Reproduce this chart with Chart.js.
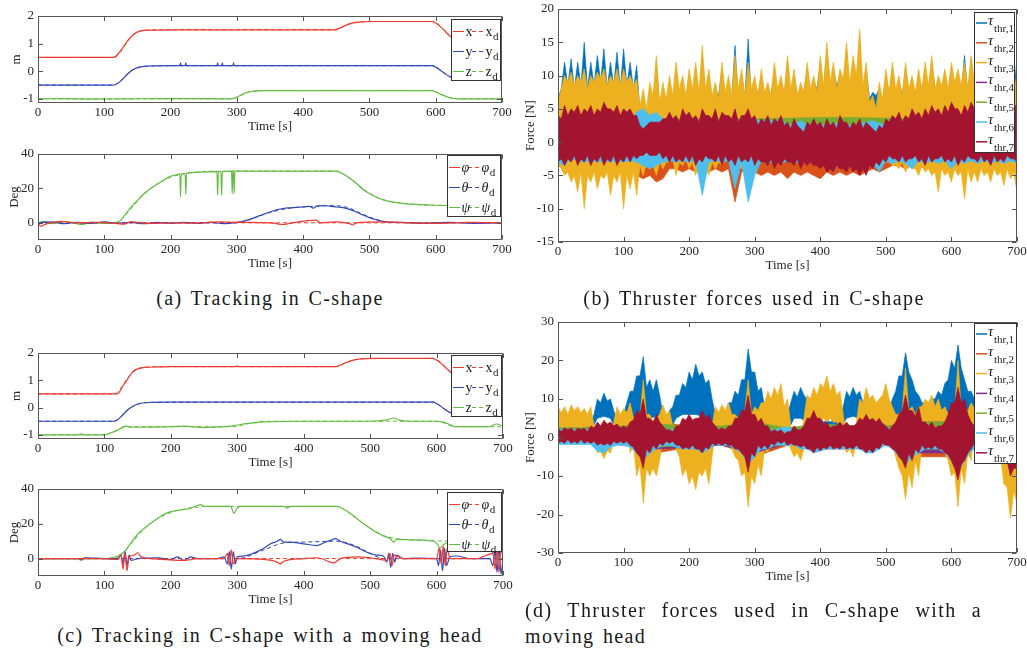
<!DOCTYPE html>
<html>
<head>
<meta charset="utf-8">
<title>C-shape tracking and thruster forces</title>
<script src="https://cdn.jsdelivr.net/npm/chart.js@4.4.1/dist/chart.umd.min.js"></script>
<style>
  body { margin: 0; background: #fff; }
  #page { position: relative; width: 1027px; height: 653px; overflow: hidden; background: #fff; }
  canvas { position: absolute; }
  .cap { position: absolute; font-family: "Liberation Serif", "Times New Roman", Times, serif; font-size: 20px; line-height: 24px; color: #1a1a1a; letter-spacing: 1.4px; word-spacing: 2px; white-space: nowrap; }
</style>
</head>
<body>
<div id="page">
  <canvas id="pa1"></canvas>
  <canvas id="pa2"></canvas>
  <canvas id="pb"></canvas>
  <canvas id="pc1"></canvas>
  <canvas id="pc2"></canvas>
  <canvas id="pd"></canvas>
  <div class="cap" style="left:20px;top:286px;width:500px;text-align:center">(a) Tracking in C-shape</div>
  <div class="cap" style="left:504px;top:286px;width:500px;text-align:center">(b) Thruster forces used in C-shape</div>
  <div class="cap" style="left:20px;top:623px;width:500px;text-align:center">(c) Tracking in C-shape with a moving head</div>
  <div class="cap" style="left:525px;top:598px;width:457px;text-align:justify;text-align-last:justify">(d) Thruster forces used in C-shape with a</div>
  <div class="cap" style="left:525px;top:624px">moving head</div>
</div>
<script>
const FONT = '"Liberation Serif", "Times New Roman", Times, serif';

// ---------- ticks ----------
const timeTicks = [0, 100, 200, 300, 400, 500, 600, 700];
const posTicks = [-1, 0, 1, 2];
const degTicks = [0, 20, 40];
const forceTicksB = [-15, -10, -5, 0, 5, 10, 15, 20];
const forceTicksD = [-30, -20, -10, 0, 10, 20, 30];

// sampling grids of the thruster envelopes
const tGrid10 = Array.from({ length: 71 }, (_, i) => i * 10);      // peaks read at 0,10,...,700 s
const tMid10 = Array.from({ length: 70 }, (_, i) => i * 10 + 5);   // band core read at 5,15,...,695 s
const tGrid50 = [0, 50, 100, 150, 200, 250, 300, 350, 400, 450, 500, 550, 600, 650, 700];

// ---------- (a) tracking in C-shape : [time, value] ----------
const a_x = [[0,0.5],[110,0.5],[116,0.52],[125,0.75],[135,1.1],[145,1.35],[155,1.46],[170,1.49],[200,1.5],[447,1.5],[455,1.56],[465,1.67],[475,1.75],[490,1.79],[510,1.8],[594,1.8],[600,1.75],[610,1.55],[620,1.3],[628,1.15],[640,1.05],[660,1.0],[700,1.0]];
const a_xd = [[0,0.5],[115,0.5],[125,0.72],[135,1.08],[145,1.34],[155,1.46],[170,1.49],[200,1.5],[448,1.5],[456,1.57],[466,1.68],[476,1.75],[490,1.79],[510,1.8],[595,1.8],[601,1.75],[611,1.54],[621,1.3],[629,1.15],[640,1.05],[660,1.0],[700,1.0]];
const a_y = [[0,-0.5],[112,-0.5],[117,-0.48],[125,-0.35],[135,-0.1],[145,0.08],[155,0.16],[170,0.19],[200,0.2],[214,0.2],[215,0.3],[216,0.2],[222,0.2],[223,0.3],[224,0.2],[270,0.2],[271,0.3],[272,0.2],[277,0.2],[278,0.3],[279,0.2],[294,0.2],[295,0.3],[296,0.2],[594,0.2],[600,0.15],[610,-0.02],[620,-0.18],[630,-0.26],[650,-0.3],[700,-0.3]];
const a_yd = [[0,-0.5],[114,-0.5],[125,-0.34],[135,-0.1],[145,0.08],[155,0.16],[170,0.19],[200,0.2],[595,0.2],[601,0.14],[611,-0.03],[621,-0.19],[631,-0.27],[650,-0.3],[700,-0.3]];
const a_z = [[0,-1],[40,-0.99],[80,-1.01],[130,-1],[200,-0.99],[290,-1],[297,-0.97],[305,-0.88],[315,-0.76],[325,-0.72],[340,-0.7],[594,-0.7],[600,-0.75],[610,-0.86],[620,-0.95],[630,-0.99],[645,-1],[700,-1]];
const a_zd = [[0,-1],[292,-1],[299,-0.96],[307,-0.87],[317,-0.76],[327,-0.72],[340,-0.7],[595,-0.7],[601,-0.75],[611,-0.86],[621,-0.95],[631,-0.99],[645,-1],[700,-1]];
const a_phi = [[0,-0.5],[5,-2],[10,-1],[20,0],[35,0.8],[45,0.5],[60,0],[90,0.3],[120,-0.5],[130,-0.8],[140,0.6],[150,0.2],[170,-0.3],[200,0],[230,-0.2],[270,0.5],[300,0.3],[350,0],[370,-1],[380,-0.3],[420,1.5],[425,0],[450,0.5],[470,-0.5],[475,-1.2],[480,0],[520,0.5],[560,0],[600,-0.3],[650,0.2],[700,0]];
const a_phid = [[0,0],[700,0]];
const a_theta = [[0,0],[20,0.5],[40,-0.5],[60,0.3],[80,-0.4],[100,0.5],[120,-0.3],[140,0.2],[160,-0.5],[180,0.2],[200,-0.3],[220,0.2],[240,-0.3],[260,0.3],[280,-0.5],[300,0.3],[310,1],[320,2],[330,3.5],[340,5],[350,6.3],[360,7.5],[370,8.3],[380,8.7],[390,9],[400,9.2],[410,9.6],[415,8.5],[420,9.6],[430,10],[440,9.7],[450,9.2],[460,8.8],[470,7.8],[480,6.3],[490,4.5],[500,3],[510,1.8],[520,0.8],[530,0.3],[550,0.2],[580,-0.3],[620,0.2],[660,-0.3],[700,0]];
const a_thetad = [[0,0],[300,0],[320,2],[350,6],[380,8.5],[410,9.5],[440,10],[455,9.8],[470,8.5],[490,5],[510,2],[530,0.3],[550,0],[700,0]];
const a_psi = [[0,0],[10,0.8],[20,-0.5],[40,0.6],[60,-0.6],[65,-1],[80,0.4],[100,-0.4],[115,0],[120,0.5],[125,1.5],[130,4],[140,9],[150,13],[160,17],[170,20],[180,22.5],[190,25],[200,27],[210,28],[214,28.5],[215,15],[216,28.5],[222,28.5],[223,16.5],[224,28.7],[240,29.3],[250,29.6],[270,29.8],[271,16],[272,29.8],[276,29.8],[277,16],[278,29.8],[292,30],[293,17],[294,30.5],[295,30],[296,17],[297,30],[300,30],[450,30],[460,28.5],[470,26],[480,23],[490,19.5],[500,17],[510,15],[520,13.5],[530,12.5],[550,11.3],[570,10.7],[600,10.2],[650,10],[700,10]];
const a_psid = [[0,0],[118,0],[130,3.5],[140,8],[150,12.5],[160,16.5],[170,20],[180,22.5],[190,24.8],[200,26.5],[220,28.5],[240,29.5],[260,30],[450,30],[460,28.5],[470,26],[480,23],[490,20],[500,17],[510,15],[520,13.5],[530,12.5],[550,11.3],[570,10.6],[600,10.2],[650,10],[700,10]];

// ---------- (c) tracking with a moving head ----------
const c_x = [[0,0.5],[112,0.5],[118,0.5],[122,0.55],[128,0.8],[135,1.05],[142,1.3],[150,1.42],[160,1.47],[180,1.49],[200,1.5],[297,1.5],[300,1.53],[303,1.5],[448,1.5],[455,1.55],[465,1.66],[478,1.76],[490,1.79],[510,1.8],[594,1.8],[600,1.74],[610,1.55],[620,1.32],[628,1.15],[640,1.05],[660,1.0],[700,1.0]];
const c_xd = [[0,0.5],[115,0.5],[125,0.72],[135,1.08],[145,1.34],[155,1.46],[170,1.49],[200,1.5],[448,1.5],[456,1.57],[466,1.68],[476,1.75],[490,1.79],[510,1.8],[595,1.8],[601,1.75],[611,1.54],[621,1.3],[629,1.15],[640,1.05],[660,1.0],[700,1.0]];
const c_y = [[0,-0.5],[112,-0.5],[118,-0.47],[125,-0.33],[135,-0.08],[145,0.08],[155,0.16],[170,0.19],[200,0.2],[594,0.2],[600,0.15],[610,-0.02],[620,-0.18],[630,-0.26],[650,-0.3],[700,-0.3]];
const c_yd = [[0,-0.5],[114,-0.5],[125,-0.34],[135,-0.1],[145,0.08],[155,0.16],[170,0.19],[200,0.2],[595,0.2],[601,0.14],[611,-0.03],[621,-0.19],[631,-0.27],[650,-0.3],[700,-0.3]];
const c_z = [[0,-1],[60,-1],[65,-0.96],[70,-1],[100,-1],[110,-0.92],[120,-0.82],[128,-0.7],[133,-0.68],[140,-0.72],[150,-0.72],[200,-0.7],[220,-0.68],[250,-0.73],[280,-0.7],[295,-0.66],[305,-0.62],[320,-0.57],[340,-0.52],[400,-0.5],[500,-0.5],[525,-0.45],[535,-0.38],[545,-0.47],[560,-0.5],[600,-0.5],[610,-0.53],[618,-0.6],[628,-0.7],[680,-0.7],[690,-0.6],[700,-0.68]];
const c_zd = [[0,-1],[100,-1],[110,-0.93],[120,-0.83],[130,-0.72],[140,-0.7],[300,-0.7],[310,-0.62],[325,-0.55],[340,-0.5],[600,-0.5],[610,-0.55],[620,-0.65],[630,-0.7],[700,-0.7]];
const c_phi = [[0,0],[100,0],[120,-0.5],[125,2],[128,-6],[131,3],[134,-7],[137,1],[145,2],[150,3.5],[155,1],[170,0],[220,-1],[240,0],[280,0],[285,3],[288,-4],[291,5],[294,-3],[300,0],[340,-0.5],[360,-2],[365,-3],[370,-1.5],[400,0],[420,0.5],[440,-2],[445,-2.5],[455,0],[480,1],[500,0.5],[525,-1],[530,3],[533,-4],[536,2],[550,0],[600,0],[604,6],[607,-3],[610,7],[613,-4],[616,6],[620,0],[660,0],[685,3],[688,-6],[691,5],[694,-8],[697,6],[700,0]];
const c_phid = [[0,0],[700,0]];
const c_theta = [[0,0],[60,0],[65,-0.5],[70,0.5],[100,0],[120,0],[125,2],[128,-3],[131,4],[134,-4],[137,2],[140,-1],[150,0],[180,0.5],[200,-0.5],[210,1],[220,-1],[230,1],[240,0],[270,0],[280,1],[285,-3],[288,4],[291,-6],[294,4],[297,-3],[300,1],[310,1.5],[320,2.5],[330,4],[340,6],[350,8.5],[360,10],[365,11],[370,9.5],[380,9.5],[400,8.5],[420,7.5],[430,9],[440,10.5],[448,11.5],[455,10],[470,8],[480,6.5],[490,4.5],[500,3],[510,2],[520,1.5],[525,-2],[528,3],[531,-5],[534,3],[537,-2],[540,2],[550,0],[570,0.3],[600,0],[603,-4],[606,5],[609,-7],[612,6],[615,-4],[620,1],[630,1.5],[650,0],[680,0],[685,-4],[688,5],[691,-8],[694,7],[697,-9],[700,0]];
const c_thetad = [[0,0],[300,0],[340,5],[370,9],[400,9.5],[450,10],[480,7],[500,3],[520,0],[700,0]];
const c_psi = [[0,0],[60,0],[65,-1],[70,0],[100,0],[110,0.5],[120,1.5],[130,4],[140,9],[150,14],[160,17.5],[170,20.5],[180,23],[190,25.5],[200,27],[210,27.8],[220,28.2],[230,29],[240,30.5],[245,31],[250,30],[290,30],[295,26],[300,29],[305,30],[370,30],[375,29],[380,30],[450,30],[460,28.5],[470,26],[480,23],[490,20],[500,17.5],[510,15],[520,13],[530,11.5],[535,9.5],[540,11],[560,10.8],[590,10.2],[600,9],[605,6],[610,8],[620,9.5],[650,10],[690,10],[700,10]];
const c_psid = [[0,0],[110,0],[125,2],[140,8.5],[160,17],[180,23],[200,26.5],[220,28.5],[240,29.6],[260,30],[450,30],[460,28.5],[480,23],[500,17.5],[520,13.3],[540,11.5],[570,10.6],[600,10.2],[650,10],[700,10]];

// ---------- (b) thruster force envelopes [N] ----------
const b_thr1_hi = [6.5,12,12.5,12,15,12,13,14,12,13.5,14,12,11.5,7,8,12,8,9,11,9,10,11,13,10,8,11,9,14.5,10,15.5,9,10,8,11,9,12,10,8,11,9,12,14,11,10,14,12,16,11,7.5,8,10,11,9,11,9,10,11,12,9,10,11,10,13,12.5,12,11,10,11,10,13,12.5];
const b_thr1_hiCore = [8,8.5,8,8.5,8,8.5,9,8,8.5,8,8.5,8,4.5,4,6,5,5.5,6,7,6,6.5,6,7,6,7,6,6.5,6,6.5,6,7,6.5,7,6.5,7,6.5,7,7.5,7,8,7.5,8,8.5,7,5,4,5.5,6.5,7,6,7,6.5,7,7.5,7,7.5,7,8,7.5,7,8,7.5,7,7.5,7,7.5,7,7.5,7,7.5];
const b_thr1_lo = [1,0.5,1,0,0.5,0,0.5,0,0.5,0,0.5,0,0.5,0,0.5];
const b_thr2_hi = [3,3,2.5,3,3,2.5,3,3,2.5,3,3,2.5,3,3,3];
const b_thr2_lo = [-3.5,-4,-3.5,-4,-3.5,-4,-3.5,-4,-3.5,-4,-3.5,-4,-5,-5.5,-5,-6,-5.5,-4,-4,-4.5,-4,-4.5,-4,-4.5,-4,-4.5,-4,-9,-4.5,-4,-4.5,-5,-4.5,-5,-4.5,-5.5,-4.5,-5,-4.5,-5,-5.5,-4.5,-5,-4.5,-5,-4.5,-5,-4.5,-4,-4.5,-4,-3.5,-3.5,-4,-3.5,-3.5,-4,-3.5,-3.5,-4,-3.5,-3.5,-4,-3.5,-3.5,-4,-3.5,-3.5,-4,-3.5,-3.5];
const b_thr3_hi = [6,10,10.5,10,11,10,10.5,11,10,11,11,10,9.5,8,9,13,9,10,12,10,11,12,14.5,11,9,12,10,13,11,12,10,11,9,12,10,13,11,9,12,10,13,15,12,11,15,13,17,12,7,9,11,12,10,12,10,11,12,13,10,11,12,11,12,13,11,12,11,12,11,12,10];
const b_thr3_hiCore = [8,9,8.5,9,8,9,9.5,8.5,9,8.5,9,8.5,5.5,5,7,6,6.5,7,8,7,8,7.5,8,7,6.5,7.5,7,8,7,8,7,7.5,7,8,7.5,8,7,7.5,8,7.5,8.5,9,8,9.5,9,10,8.5,6,5,6.5,7.5,8,7,8,7.5,8,8.5,8,8.5,8,9,8.5,8,9,8.5,8,8.5,8,8.5,8];
const b_thr3_lo = [-3,-5,-6,-7.5,-10,-6,-7,-5.5,-8,-6,-10,-7,-8,-5,-4,-5,-4,-3,-5,-3.5,-4,-5,-7,-5,-4,-3.5,-3,-5,-4,-4,-3.5,-3,-3,-3,-3,-3,-3,-3,-3,-3,-3,-3,-3,-3,-3,-3,-3,-3,-3,-3,-3,-3.5,-4,-4.5,-4,-5,-4.5,-5,-7.5,-5,-6,-5,-8.5,-6,-6,-5,-6,-5,-6.5,-5.5,-7.5];
const b_thr3_loCore = [-4,-4.5,-5,-4.5,-5,-4.5,-5,-4.5,-5,-4.5,-5,-4.5,-3.5,-3,-3.5,-3,-3,-2.5,-3,-2.5,-3,-3,-3.5,-3,-3,-2.5,-3,-3,-2.5,-3,-2.5,-3,-2.5,-3,-2.5,-3,-2.5,-3,-2.5,-3,-2.5,-3,-2.5,-3,-2.5,-3,-2.5,-3,-2.5,-3,-3,-3.5,-3,-3.5,-4,-3.5,-4,-4.5,-4,-4.5,-4,-4.5,-4,-4.5,-4,-4.5,-4,-4.5,-4,-4.5];
const b_thr4_hi = [3,3,2.5,3,2.5,3,2.5,3,3,3,2.5,3,3,3,3];
const b_thr4_lo = [-2.5,-2.5,-2,-2.5,-2.5,-2.5,-3,-3,-3,-3,-2.5,-2.5,-2.5,-2.5,-2.5];
const b_thr5_hi = [3.5,3.5,3.5,3.5,3.5,3.5,3.5,3.6,3.7,3.7,3.6,3.5,3.5,3.5,3.5];
const b_thr5_lo = [-2.5,-2.5,-2.5,-2.5,-2.5,-2.5,-3,-3,-3,-3,-2.5,-2.5,-2.5,-2.5,-2.5];
const b_thr6_hi = [3,3.5,3,3.5,3,3.5,3,3.5,3,3.5,3,3.5,4.5,5,4,4.5,3.5,3,3.5,3,3.5,3,3.5,3,3.5,3,3.5,3,3.5,3,3.5,3,3.5,3,3.5,2.5,2.8,3.2,2.6,2.8,2.5,2.7,2.8,2.9,2.6,2.5,2.8,3,3.2,2.8,2.6,3,3.5,3,3.5,3,3.5,3,3.5,3,3.5,3,3.5,3,3.5,3,3.5,3,3.5,3,3.5];
const b_thr6_lo = [-3,-3.5,-2.5,-2.8,-3,-2.8,-3,-2.8,-3,-2.8,-3,-2.8,-3,-3.5,-4,-3.5,-3,-2.8,-3,-2.8,-3,-2.8,-8,-3,-2.8,-3,-2.8,-7,-3,-9,-5,-2.8,-3.2,-2.8,-3.2,-2.8,-3.2,-2.8,-3.2,-2.8,-3.2,-2.8,-4.5,-2.8,-3.2,-2.8,-3.2,-2.8,-3.2,-4.5,-2.8,-3.2,-2.8,-3.2,-4,-2.8,-3.2,-2.8,-3.2,-2.8,-4,-2.8,-3.2,-2.8,-3.2,-2.8,-3.2,-2.8,-3.2,-2.8,-3.2];
const b_thr7_hi = [4,5.5,5,5.5,5,5.5,5,6,5,5.5,5,5,4,2,3,3,3.5,4.5,4,5,4.5,4,5,4,5,4.5,4,5,4,5,4,3.5,4,3.5,4,3,3.5,2,3,3.5,3,3.5,3,4,3,3,3.5,3,2,2.5,3.5,4,4.5,4,5,4.5,5,5.5,5,5.5,6,5,5.5,6,5.5,5,5.5,5,5.5,5,6];
const b_thr7_hiCore = [3.5,4,4.5,4,4.5,4,4.5,5,4.5,4,4.5,4,2.5,2.5,3,3,3.5,3.5,3,4,3.5,3,4,3.5,3,4,3.5,3,4,3.5,2.5,3,2.5,3,2.5,2,2.5,1.5,2.5,2.5,2,2.5,2,3,2,2.5,2,2.5,1.5,2,3,3.5,3,3.5,4,3.5,4,4.5,4,4.5,5,4,4.5,5,4.5,4,4.5,4,4.5,4.5];
const b_thr7_lo = [-3,-3.5,-3,-3.5,-3,-3.5,-3,-3.5,-3,-3.5,-3,-3,-2.5,-2,-2,-2,-2.5,-3,-3,-3,-3,-3.5,-3,-2.5,-3,-3.5,-3,-3.5,-3,-3,-3.5,-3,-3.5,-4,-3.5,-3,-3.5,-4,-3.5,-3.5,-4,-4.5,-4.5,-4,-4.5,-4.5,-5,-5,-4,-3.5,-3,-2.5,-3,-3,-2.5,-3,-3.5,-3,-2.5,-3,-3,-3.5,-3,-2.5,-3,-3,-3.5,-3,-3,-2.5,-3];
const b_thr7_loCore = [-2.5,-2.5,-2,-2.5,-2,-2.5,-2,-2.5,-2,-2.5,-2,-2,-2,-1.5,-2,-1.5,-2,-2,-2.5,-2,-2,-2.5,-2,-2.5,-2,-2,-2.5,-2,-2.5,-2,-2.5,-3,-2.5,-3,-2.5,-3,-2.5,-3,-3,-3.5,-3.5,-4,-3.5,-4,-3.5,-4,-4,-3.5,-3,-2.5,-2,-2.5,-2,-2.5,-2,-2.5,-2,-2.5,-2,-2.5,-2,-2.5,-2,-2.5,-2,-2.5,-2,-2.5,-2,-2.5];

// ---------- (d) thruster force envelopes with a moving head [N] ----------
const d_thr1_hi = [3,3,3.5,3,3,4,10,11.5,10,4,6,12,16,21,15,15,6,7,11,14,17,19,17,15,6,5,9,12,15,23,17,13,5,4,4,6,12,13,10,5,5,4.5,4.5,5,12,13,12,6,5,5,6,10,16,22,15,11,9,10,12,14,20,24,15,12,10,10,9,10,14,19,24];
const d_thr1_hiCore = [2.5,2.5,2.5,2.5,3,6,9,9.5,7,3,9,12,16,13,12,11,5,8,11,13,15,16,14,10,4,6,9,11,15,17,12,8,4,3.5,4,9,10.5,11,6,4.5,4,4,4,8,10.5,11,9,5,4.5,4.5,7,12,16,17,12,9,9,10,11,15,18,18,12,10,9,8.5,9,11,15,18];
const d_thr1_lo = [1,1,1,1,1,1.5,5,5.5,5,1,1.5,4,5,5,5,5.5,2,1.5,5,6,6,6,5.5,5,1.5,1.5,4,5,5,5,5,4,1.5,1,1,1.5,5,5,4,2,2,2,2,2,5,5.5,5,2,2,2,2,4,5,5,5,4,2,2,2,4,5,5,5,4,2,2,2,2,4,5,5];
const d_thr2_hi = [2,2,2.5,4,3,2.5,5,2.5,3,3,2.5,5,5,2.5,3];
const d_thr2_lo = [-1.5,-1.5,-2,-4,-2.5,-2,-5,-2,-3,-3,-2,-5,-5,-2,-3];
const d_thr3_hi = [8,8,8.5,8,7.5,8,-1,-1,-0.5,8,7.5,9,6,15,6,5,8.5,7,-1,-2,-2,-2,-2,-1,8,8.5,9,6,6,15,8,9,12,13,14,10,-1,-1,11,13,14,16,14,12,-1,-1,10,13,11,10,14,8,6,18,8,8,10,11,10,8,8,20,8,9,10,10,10,9,6,8,15];
const d_thr3_hiCore = [6.5,6,7,6.5,6,3,-1.5,-1.5,4,6,6.5,5,5,6,4,6,6,3,-2,-2.5,-2.5,-2.5,-2,3,6.5,7,6,5,7,6,7,9,10,11,8,3,-1.5,5,10,11,13,12,11,6,-1.5,4,9,10,9,11,10,6,7,7,6,8,9,8,7,6,7,7,7,7.5,8,8,7,6,5,7];
const d_thr3_lo = [2,2,2,2,2,2,-4,-5.5,-4,2,2,-4,-10,-17,-10,-10,0,2,-3,-10,-12,-13.5,-10,-12,2,2,-1,-5,-10,-18,-12,-10,-4,-2,0,-1,-5,-6,-2,3,4,4,4,3,-4,-5,-3,3,3,2,3,-2,-8,-16,-13,-10,2,2,2,-4,-10,-18,-12,-6,0,0,1,0,-12,-21,-17];
const d_thr3_loCore = [3,3,3,3,3,-1,-3.5,-3.5,-1,3,3,-2,-7,-8,-8,-6,-1,1,-5,-8,-10,-9,-8,-5,3,1,-3,-6,-9,-10,-7,-3,-1,1,0,-3,-4,-3,1,5,5,5,4,-1,-3,-1,4,4,3.5,4,0,-5,-10,-9,-6,-2,3,3,-1,-6,-9,-8,-4,1,1,1.5,1,-5,-13,-14];
const d_thr4_hi = [2,2,2.5,3,3,2.5,4,2,3,3,2.5,4,4,2.5,3];
const d_thr4_lo = [-1,-1.5,-1.5,-3,-2.5,-2,-4,-1.5,-2.5,-2.5,-2,-4,-4,-2,-3];
const d_thr5_hi = [2.5,2.5,3,3.5,3,3,4,2.5,3.5,3,3,4,4,3,3];
const d_thr5_lo = [-1,-1.5,-1.5,-2.5,-2,-1.5,-3,-1.5,-2,-2,-1.5,-3,-3,-1.5,-2.5];
const d_thr6_hi = [2,2,2,2,2,2,2,2,2,2,2,2.5,3,3,2.5,3,2.5,2,2,2.5,3,2.5,3,2.5,2,2,2,2.5,3,3,2.5,2,2,2,2.5,2.8,2,2,2,3,2.5,2,2,2,2,2,2.5,2.5,2.5,2.5,2.8,2,2.5,3,2.5,3,2.5,2,2,2.5,3,3,3,2.5,3,2.5,2,2,2.5,3,3];
const d_thr6_lo = [-1.8,-1.8,-1.8,-1.8,-1.8,-1.8,-3.5,-4,-2.5,-2,-2,-2.5,-4,-6,-4,-3,-2,-2,-2.5,-3,-3,-3,-4,-3,-2,-2,-2,-3,-4,-7,-5,-3,-3,-2,-2,-2,-2,-3,-3,-4,-3.5,-3,-3,-3,-3,-3,-3,-4,-4,-3,-2,-3,-5,-7,-5,-4,-3,-3,-3,-4,-6,-9,-6,-3.5,-2.5,-2.5,-2.5,-2.5,-4,-9,-7];
const d_thr7_hi = [2.5,2.5,2.5,2.5,2.5,3,4,4.5,4,3.5,3,4,7,10,5,6,3,2,3,5,6,5,7,6,3,2.5,3,5,7,11,6,5,3,2,2,1.5,3,2,5,7,5,4,3,4,4,3,5,6,5,5,3,3,6,11,7,8,4,4,3,4,9,13,10,4,3,3,3,3,5,14,9];
const d_thr7_hiCore = [1.5,2,1.5,2,1.5,2.5,3,3.5,3,2.5,2.5,4.5,6,5,4,4,2,1.5,3,4.5,4.5,5,5,4,2,2,3,5,7,6,4,3,1.5,1.5,1,1.5,2,3,5,5,3.5,2.5,3,3,3,3.5,4.5,4.5,4,3.5,2,4,7,7,5.5,4,3,2.5,3,6,9,9,6,3,2.5,2.5,2.5,3,8,10];
const d_thr7_lo = [-1.5,-1.5,-1.5,-1.5,-1.5,-1.5,-2,-2,-2,-1.5,-1.5,-2,-4,-8,-4,-3,-2,-1.5,-2,-3,-3,-3,-4,-3,-2,-2,-2,-3,-4,-9,-5,-3,-3,-2,-1.5,-2,-2,-2.5,-3,-4,-3.5,-3,-3,-3,-3,-3,-3,-4,-4,-3,-2,-3,-5,-8,-6,-4,-3,-3,-3,-4,-6,-11,-6,-3,-2,-2,-2,-2,-4,-10,-8];
const d_thr7_loCore = [-1,-0.5,-1,-0.5,-1,-1,-1.5,-1.5,-1,-1,-1,-2.5,-5,-3,-2,-1.5,-1,-1,-2,-2.5,-2,-3,-2.5,-1.5,-1.5,-1.5,-2,-3,-5,-4,-2,-2,-1.5,-1,-1,-1.5,-2,-2,-3,-2.5,-2.5,-2,-2.5,-2,-2.5,-2,-3,-3,-2.5,-1.5,-2,-3.5,-6,-4,-3,-2,-2.5,-2,-3,-4.5,-8,-7,-4,-1.5,-1.5,-1.5,-1.5,-2.5,-6,-8];

// ---------- colours ----------
const trackColors = { x: '#ef3a2f', y: '#3448b8', z: '#62bd40' };
const thrColors = ['#0072bd', '#d95319', '#edb120', '#7e2f8e', '#77ac30', '#4dbeee', '#a2142f'];
const axisColor = '#555';
const textColor = '#262626';

function trackLine(pts, color, dashed) {
  return {
    data: pts.map(p => ({ x: p[0], y: p[1] })),
    borderColor: color, borderWidth: dashed ? 1 : 1.2, borderDash: dashed ? [4, 3] : [],
    pointRadius: 0, fill: false, cubicInterpolationMode: 'monotone',
    order: dashed ? 2 : 1
  };
}

// one edge of a band, from one or two readings, ordered in time
function edge(t1, v1, t2, v2) {
  const pts = v1.map((y, i) => ({ x: t1[i], y }));
  if (t2) v2.forEach((y, i) => pts.push({ x: t2[i], y }));
  return pts.sort((p, q) => p.x - q.x);
}

// closed envelope: upper edge forward, lower edge back
function band(upper, lower, k) {
  return {
    data: upper.concat(lower.slice().reverse()),
    borderColor: thrColors[k], backgroundColor: thrColors[k],
    borderWidth: 0.7, pointRadius: 0, fill: 'shape', tension: 0, order: 8 - k
  };
}

function drawTrackLegend(ctx, lb, items) {
  ctx.fillStyle = '#fff';
  ctx.fillRect(lb.x, lb.y, lb.w, lb.h);
  ctx.strokeStyle = '#333'; ctx.lineWidth = 1;
  ctx.strokeRect(lb.x + 0.5, lb.y + 0.5, lb.w - 1, lb.h - 1);
  items.forEach((it, k) => {
    const ry = Math.round(lb.y + 12 + 20 * k) + 0.5;
    ctx.strokeStyle = it.c;
    ctx.setLineDash([]);
    ctx.beginPath(); ctx.moveTo(lb.x + 2, ry); ctx.lineTo(lb.x + 13, ry); ctx.stroke();
    ctx.setLineDash([4, 3]);
    ctx.beginPath(); ctx.moveTo(lb.x + 21, ry); ctx.lineTo(lb.x + 33, ry); ctx.stroke();
    ctx.setLineDash([]);
    ctx.fillStyle = '#1a1a1a'; ctx.textAlign = 'left'; ctx.textBaseline = 'alphabetic';
    ctx.font = (it.it ? 'italic ' : '') + '14px ' + FONT;
    ctx.fillText(it.s, lb.x + 14.5, ry + 4);
    ctx.fillText(it.s, lb.x + 34.5, ry + 4);
    const w = ctx.measureText(it.s).width;
    ctx.font = '11px ' + FONT;
    ctx.fillText('d', lb.x + 35 + w, ry + 8);
  });
}

function drawThrLegend(ctx, lb) {
  ctx.fillStyle = '#fff';
  ctx.fillRect(lb.x, lb.y, lb.w, lb.h);
  ctx.strokeStyle = '#333'; ctx.lineWidth = 1;
  ctx.strokeRect(lb.x + 0.5, lb.y + 0.5, lb.w - 1, lb.h - 1);
  thrColors.forEach((c, k) => {
    const ry = lb.y + 11 + 19.8 * k;
    ctx.strokeStyle = c; ctx.lineWidth = 1.5;
    ctx.beginPath(); ctx.moveTo(lb.x + 2, ry); ctx.lineTo(lb.x + 13, ry); ctx.stroke();
    ctx.fillStyle = '#1a1a1a'; ctx.textAlign = 'left'; ctx.textBaseline = 'alphabetic';
    ctx.font = 'italic 15px ' + FONT;
    ctx.fillText('\u03c4', lb.x + 14, ry + 2);
    ctx.font = '11px ' + FONT;
    ctx.fillText('thr,' + (k + 1), lb.x + 20, ry + 9);
  });
}

function makePanel(id, box, plot, cfg) {
  const cv = document.getElementById(id);
  cv.width = box.w; cv.height = box.h;
  cv.style.left = box.x + 'px'; cv.style.top = box.y + 'px';

  const mlab = {
    id: 'mlab',
    afterDatasetsDraw(chart) {
      const { ctx, chartArea: a, scales: { x, y } } = chart;
      ctx.save();
      const L = Math.round(a.left) + 0.5, R = Math.round(a.right) - 0.5;
      const T = Math.round(a.top) + 0.5, B = Math.round(a.bottom) - 0.5;
      const tl = 4.5;
      ctx.strokeStyle = axisColor; ctx.lineWidth = 1;
      ctx.beginPath();
      ctx.rect(L, T, R - L, B - T);
      timeTicks.forEach(v => {
        const px = Math.round(x.getPixelForValue(v)) + 0.5;
        ctx.moveTo(px, B); ctx.lineTo(px, B - tl);
        ctx.moveTo(px, T); ctx.lineTo(px, T + tl);
      });
      cfg.yTicks.forEach(v => {
        const py = Math.round(y.getPixelForValue(v)) + 0.5;
        ctx.moveTo(L, py); ctx.lineTo(L + tl, py);
        ctx.moveTo(R, py); ctx.lineTo(R - tl, py);
      });
      ctx.stroke();

      ctx.fillStyle = textColor;
      ctx.font = '13px ' + FONT;
      ctx.textAlign = 'center'; ctx.textBaseline = 'middle';
      timeTicks.forEach(v => ctx.fillText(String(v), x.getPixelForValue(v), a.bottom + 10));
      ctx.fillText('Time [s]', (a.left + a.right) / 2, a.bottom + 24);
      ctx.textAlign = 'right';
      cfg.yTicks.forEach(v => ctx.fillText(String(v), a.left - 4, y.getPixelForValue(v)));
      ctx.save();
      ctx.translate(cfg.yTitleX - box.x, (a.top + a.bottom) / 2);
      ctx.rotate(-Math.PI / 2);
      ctx.textAlign = 'center';
      ctx.fillText(cfg.yTitle, 0, 0);
      ctx.restore();

      const lb = { x: cfg.legend.x - box.x, y: cfg.legend.y - box.y, w: cfg.legend.w, h: cfg.legend.h };
      if (cfg.legend.items) drawTrackLegend(ctx, lb, cfg.legend.items);
      else drawThrLegend(ctx, lb);
      ctx.restore();
    }
  };

  return new Chart(cv, {
    type: 'line',
    data: { datasets: cfg.datasets },
    options: {
      responsive: false, animation: false, events: [],
      layout: { padding: { left: 0, top: plot.t - box.y, right: box.x + box.w - plot.r, bottom: 0 } },
      plugins: { legend: { display: false }, tooltip: { enabled: false } },
      scales: {
        x: {
          type: 'linear', min: 0, max: 700,
          grid: { display: false, drawTicks: false }, border: { display: false }, ticks: { display: false },
          afterBuildTicks: s => { s.ticks = timeTicks.map(v => ({ value: v })); },
          afterFit: s => { s.height = box.y + box.h - plot.b; s.paddingLeft = 0; s.paddingRight = 0; }
        },
        y: {
          type: 'linear', min: cfg.yMin, max: cfg.yMax,
          grid: { display: false, drawTicks: false }, border: { display: false }, ticks: { display: false },
          afterBuildTicks: s => { s.ticks = cfg.yTicks.map(v => ({ value: v })); },
          afterFit: s => { s.width = plot.l - box.x; s.paddingTop = 0; s.paddingBottom = 0; }
        }
      }
    },
    plugins: [mlab]
  });
}

const posLegendItems = [{ c: trackColors.x, s: 'x' }, { c: trackColors.y, s: 'y' }, { c: trackColors.z, s: 'z' }];
const angLegendItems = [{ c: trackColors.x, s: '\u03c6', it: true }, { c: trackColors.y, s: '\u03b8', it: true }, { c: trackColors.z, s: '\u03c8', it: true }];

function drawAll() {
  // (a) top
  makePanel('pa1', { x: 0, y: 0, w: 516, h: 136 }, { l: 38, t: 16, r: 502, b: 103 }, {
    yMin: -1.15, yMax: 2, yTicks: posTicks, yTitle: 'm', yTitleX: 17,
    legend: { x: 451, y: 19, w: 50, h: 62, items: posLegendItems },
    datasets: [
      trackLine(a_xd, trackColors.x, true), trackLine(a_yd, trackColors.y, true), trackLine(a_zd, trackColors.z, true),
      trackLine(a_x, trackColors.x, false), trackLine(a_y, trackColors.y, false), trackLine(a_z, trackColors.z, false)
    ]
  });
  // (a) bottom
  makePanel('pa2', { x: 0, y: 140, w: 516, h: 130 }, { l: 38, t: 154, r: 502, b: 240 }, {
    yMin: -10, yMax: 40, yTicks: degTicks, yTitle: 'Deg', yTitleX: 15,
    legend: { x: 447, y: 155, w: 54, h: 62, items: angLegendItems },
    datasets: [
      trackLine(a_phid, trackColors.x, true), trackLine(a_thetad, trackColors.y, true), trackLine(a_psid, trackColors.z, true),
      trackLine(a_phi, trackColors.x, false), trackLine(a_theta, trackColors.y, false), trackLine(a_psi, trackColors.z, false)
    ]
  });
  // (b)
  makePanel('pb', { x: 515, y: 0, w: 512, h: 278 }, { l: 558, t: 9, r: 1017, b: 242 }, {
    yMin: -15, yMax: 20, yTicks: forceTicksB, yTitle: 'Force [N]', yTitleX: 531,
    legend: { x: 974, y: 12, w: 41, h: 141 },
    datasets: [
      band(edge(tGrid10, b_thr1_hi, tMid10, b_thr1_hiCore), edge(tGrid50, b_thr1_lo), 0),
      band(edge(tGrid50, b_thr2_hi), edge(tGrid10, b_thr2_lo), 1),
      band(edge(tGrid10, b_thr3_hi, tMid10, b_thr3_hiCore), edge(tGrid10, b_thr3_lo, tMid10, b_thr3_loCore), 2),
      band(edge(tGrid50, b_thr4_hi), edge(tGrid50, b_thr4_lo), 3),
      band(edge(tGrid50, b_thr5_hi), edge(tGrid50, b_thr5_lo), 4),
      band(edge(tGrid10, b_thr6_hi), edge(tGrid10, b_thr6_lo), 5),
      band(edge(tGrid10, b_thr7_hi, tMid10, b_thr7_hiCore), edge(tGrid10, b_thr7_lo, tMid10, b_thr7_loCore), 6)
    ]
  });
  // (c) top
  makePanel('pc1', { x: 0, y: 336, w: 516, h: 136 }, { l: 38, t: 353, r: 503, b: 439 }, {
    yMin: -1.15, yMax: 2, yTicks: posTicks, yTitle: 'm', yTitleX: 17,
    legend: { x: 451, y: 355, w: 51, h: 62, items: posLegendItems },
    datasets: [
      trackLine(c_xd, trackColors.x, true), trackLine(c_yd, trackColors.y, true), trackLine(c_zd, trackColors.z, true),
      trackLine(c_x, trackColors.x, false), trackLine(c_y, trackColors.y, false), trackLine(c_z, trackColors.z, false)
    ]
  });
  // (c) bottom
  makePanel('pc2', { x: 0, y: 476, w: 516, h: 135 }, { l: 38, t: 489, r: 503, b: 576 }, {
    yMin: -10, yMax: 40, yTicks: degTicks, yTitle: 'Deg', yTitleX: 15,
    legend: { x: 447, y: 492, w: 55, h: 60, items: angLegendItems },
    datasets: [
      trackLine(c_phid, trackColors.x, true), trackLine(c_thetad, trackColors.y, true), trackLine(c_psid, trackColors.z, true),
      trackLine(c_phi, trackColors.x, false), trackLine(c_theta, trackColors.y, false), trackLine(c_psi, trackColors.z, false)
    ]
  });
  // (d)
  makePanel('pd', { x: 515, y: 312, w: 512, h: 280 }, { l: 558, t: 322, r: 1017, b: 553 }, {
    yMin: -30, yMax: 30, yTicks: forceTicksD, yTitle: 'Force [N]', yTitleX: 531,
    legend: { x: 974, y: 323, w: 43, h: 141 },
    datasets: [
      band(edge(tGrid10, d_thr1_hi, tMid10, d_thr1_hiCore), edge(tGrid10, d_thr1_lo), 0),
      band(edge(tGrid50, d_thr2_hi), edge(tGrid50, d_thr2_lo), 1),
      band(edge(tGrid10, d_thr3_hi, tMid10, d_thr3_hiCore), edge(tGrid10, d_thr3_lo, tMid10, d_thr3_loCore), 2),
      band(edge(tGrid50, d_thr4_hi), edge(tGrid50, d_thr4_lo), 3),
      band(edge(tGrid50, d_thr5_hi), edge(tGrid50, d_thr5_lo), 4),
      band(edge(tGrid10, d_thr6_hi), edge(tGrid10, d_thr6_lo), 5),
      band(edge(tGrid10, d_thr7_hi, tMid10, d_thr7_hiCore), edge(tGrid10, d_thr7_lo, tMid10, d_thr7_loCore), 6)
    ]
  });
}

if (document.fonts && document.fonts.load) {
  Promise.all([document.fonts.load('13px ' + FONT), document.fonts.load('italic 13px ' + FONT)]).then(drawAll, drawAll);
} else {
  drawAll();
}
</script>
</body>
</html>
